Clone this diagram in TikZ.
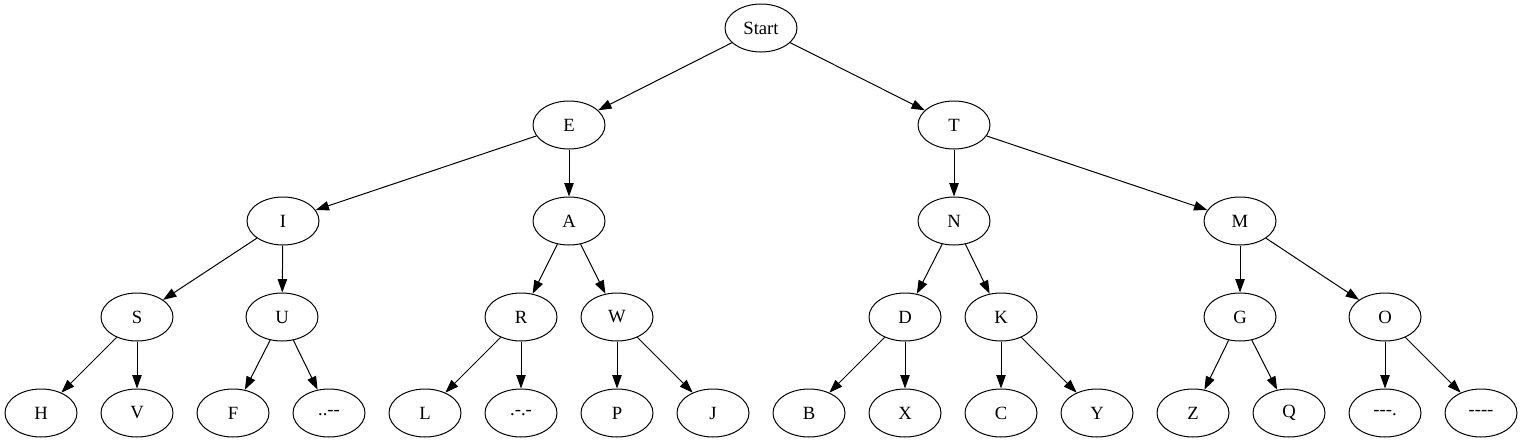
\documentclass[tikz,border=0pt]{standalone}
\usepackage{fontspec}
\setmainfont{Liberation Serif}
\usetikzlibrary{shapes.geometric,arrows.meta}

\begin{document}
\begin{tikzpicture}[x=0.75pt,y=-0.75pt,
        letter/.style={draw,ellipse,minimum width=54pt,minimum height=36pt,inner sep=0pt,line width=0.75pt,font=\fontsize{14}{16}\selectfont},
        edge/.style={-{Triangle[length=10pt,width=7pt]},line width=0.75pt}]
                \useasboundingbox (0,0) rectangle (1523,443);
                \node[letter] (start) at (761,28) {Start};
                \node[letter] (e) at (569,125) {E};
                \node[letter] (t) at (954,125) {T};
                \node[letter] (i) at (283,221) {I};
                \node[letter] (a) at (569,221) {A};
                \node[letter] (n) at (954,221) {N};
                \node[letter] (m) at (1240,221) {M};
                \node[letter] (s) at (137,317) {S};
                \node[letter] (u) at (282,317) {U};
                \node[letter] (r) at (521,317) {R};
                \node[letter] (w) at (617,317) {W};
                \node[letter] (d) at (905,317) {D};
                \node[letter] (k) at (1001,317) {K};
                \node[letter] (g) at (1240,317) {G};
                \node[letter] (o) at (1385,317) {O};
                \node[letter] (h) at (41,413) {H};
                \node[letter] (v) at (137,413) {V};
                \node[letter] (f) at (233,413) {F};
                \node[letter] (uu) at (329,413) {..-{}-};
                \node[letter] (l) at (425,413) {L};
                \node[letter] (rr) at (521,413) {.-.-};
                \node[letter] (p) at (617,413) {P};
                \node[letter] (j) at (713,413) {J};
                \node[letter] (b) at (809,413) {B};
                \node[letter] (x) at (905,413) {X};
                \node[letter] (c) at (1001,413) {C};
                \node[letter] (y) at (1097,413) {Y};
                \node[letter] (z) at (1193,413) {Z};
                \node[letter] (q) at (1289,413) {Q};
                \node[letter] (oo) at (1385,413) {-{}-{}-.};
                \node[letter] (ooo) at (1481,413) {-{}-{}-{}-};
                % dots to the left, dashes to the right
                \draw[edge] (start) -- (e);
                \draw[edge] (start) -- (t);
                \draw[edge] (e) -- (i);
                \draw[edge] (e) -- (a);
                \draw[edge] (t) -- (n);
                \draw[edge] (t) -- (m);
                \draw[edge] (i) -- (s);
                \draw[edge] (i) -- (u);
                \draw[edge] (a) -- (r);
                \draw[edge] (a) -- (w);
                \draw[edge] (n) -- (d);
                \draw[edge] (n) -- (k);
                \draw[edge] (m) -- (g);
                \draw[edge] (m) -- (o);
                \draw[edge] (s) -- (h);
                \draw[edge] (s) -- (v);
                \draw[edge] (u) -- (f);
                \draw[edge] (u) -- (uu);
                \draw[edge] (r) -- (l);
                \draw[edge] (r) -- (rr);
                \draw[edge] (w) -- (p);
                \draw[edge] (w) -- (j);
                \draw[edge] (d) -- (b);
                \draw[edge] (d) -- (x);
                \draw[edge] (k) -- (c);
                \draw[edge] (k) -- (y);
                \draw[edge] (g) -- (z);
                \draw[edge] (g) -- (q);
                \draw[edge] (o) -- (oo);
                \draw[edge] (o) -- (ooo);
\end{tikzpicture}
\end{document}
